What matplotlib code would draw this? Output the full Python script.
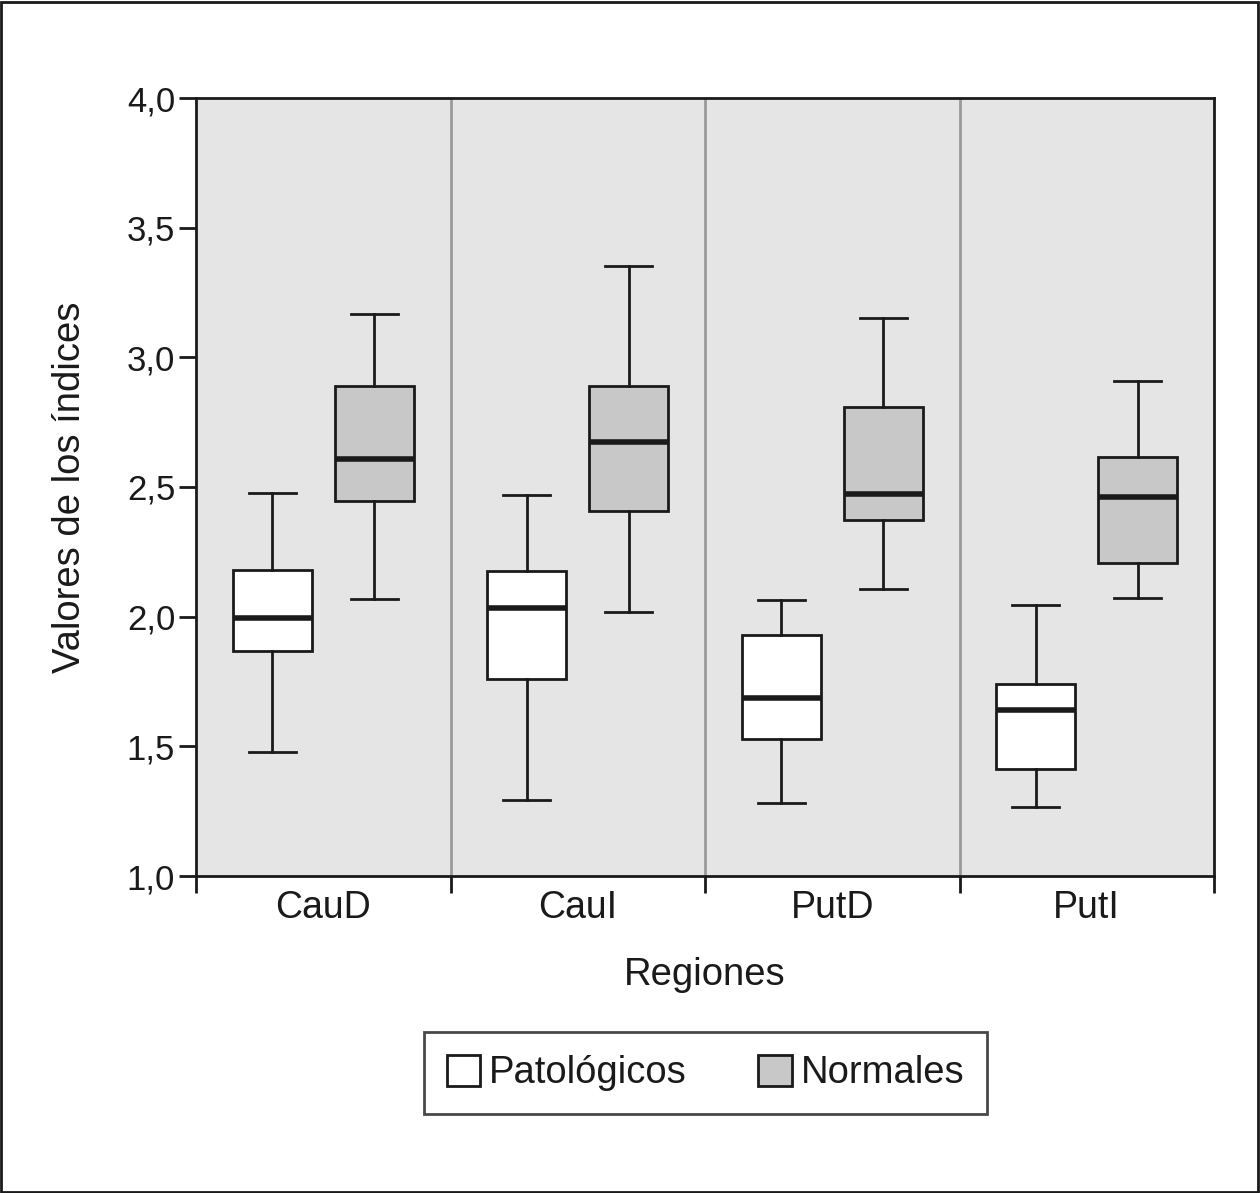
import matplotlib
matplotlib.use("Agg")
import matplotlib.pyplot as plt
from matplotlib.patches import Patch, Rectangle
from matplotlib.ticker import FuncFormatter, FixedLocator

plt.rcParams['font.family'] = ['Liberation Sans', 'DejaVu Sans']

regions = ["CauD", "CauI", "PutD", "PutI"]
groups = ["Patológicos", "Normales"]
# [whisker_low, q1, median, q3, whisker_high]
patologicos = [
    [1.478, 1.868, 1.995, 2.180, 2.477],
    [1.293, 1.760, 2.034, 2.176, 2.469],
    [1.282, 1.528, 1.686, 1.929, 2.064],
    [1.266, 1.413, 1.640, 1.740, 2.045],
]
normales = [
    [2.068, 2.446, 2.608, 2.890, 3.167],
    [2.018, 2.408, 2.674, 2.890, 3.353],
    [2.107, 2.373, 2.473, 2.809, 3.152],
    [2.072, 2.207, 2.462, 2.616, 2.909],
]
yticks = [1.0, 1.5, 2.0, 2.5, 3.0, 3.5, 4.0]

fig = plt.figure(figsize=(12.6, 11.93), dpi=100)
ax = fig.add_axes([196/1260, 1-876/1193, (1214-196)/1260, (876-98)/1193])
ax.set_facecolor('#e5e5e5')

def stats(vals, label):
    lo, q1, med, q3, hi = vals
    return dict(whislo=lo, q1=q1, med=med, q3=q3, whishi=hi, label=label, fliers=[])

for data, off, color in [(patologicos, 0.3, 'white'), (normales, 0.7, '#c8c8c8')]:
    st = [stats(v, r) for v, r in zip(data, regions)]
    pos = [i + off for i in range(len(regions))]
    ax.bxp(st, positions=pos, widths=0.31, patch_artist=True, showfliers=False,
           boxprops=dict(facecolor=color, edgecolor='#1a1a1a', linewidth=2),
           medianprops=dict(color='#1a1a1a', linewidth=4, solid_capstyle='butt'),
           whiskerprops=dict(color='#1a1a1a', linewidth=2),
           capprops=dict(color='#1a1a1a', linewidth=2),
           capwidths=0.185, manage_ticks=False, zorder=3)

for i in range(1, len(regions)):
    ax.axvline(i, color='#9a9a9a', linewidth=2, zorder=1)

ax.set_xlim(0, len(regions))
ax.set_ylim(1.0, 4.0)
ax.set_yticks(yticks)
ax.yaxis.set_major_formatter(FuncFormatter(lambda v, p: f"{v:.1f}".replace('.', ',')))
ax.xaxis.set_major_locator(FixedLocator([i + 0.5 for i in range(len(regions))]))
ax.set_xticklabels(regions)
ax.xaxis.set_minor_locator(FixedLocator(list(range(len(regions) + 1))))
ax.tick_params(axis='x', which='major', length=0, labelsize=27, pad=10, colors='#1a1a1a')
ax.tick_params(axis='x', which='minor', length=12, width=2, direction='out', color='#1a1a1a')
ax.tick_params(axis='y', length=12, width=2, direction='out', labelsize=25, pad=3, colors='#1a1a1a')
for s in ax.spines.values():
    s.set_linewidth(2)
    s.set_color('#1a1a1a')

ax.set_xlabel("Regiones", fontsize=27.5, color='#1a1a1a', va='top')
ax.xaxis.set_label_coords(0.5, (876-957)/778)
ax.set_ylabel("Valores de los índices", fontsize=27.5, color='#1a1a1a', va='bottom')
ax.yaxis.set_label_coords((88-196)/1018, 0.5)

handles = [Patch(facecolor='white', edgecolor='#1a1a1a', linewidth=2),
           Patch(facecolor='#c8c8c8', edgecolor='#1a1a1a', linewidth=2)]
leg = fig.legend(handles, groups, loc='center', bbox_to_anchor=((423+988)/2/1260, 1-1073/1193),
                 ncol=2, fontsize=27.5, frameon=True, fancybox=False, edgecolor='#1a1a1a',
                 handlelength=0.87, handleheight=0.87, handletextpad=0.24, columnspacing=1.87,
                 borderpad=0.6, borderaxespad=0)
leg.get_frame().set_linewidth(2)
for t in leg.get_texts():
    t.set_color('#1a1a1a')

fig.patches.append(Rectangle((1/1260, 1/1193), 1-3/1260, 1-3/1193, transform=fig.transFigure,
                             fill=False, edgecolor='#1a1a1a', linewidth=2))

fig.savefig("out.png", dpi=100, facecolor='white')
